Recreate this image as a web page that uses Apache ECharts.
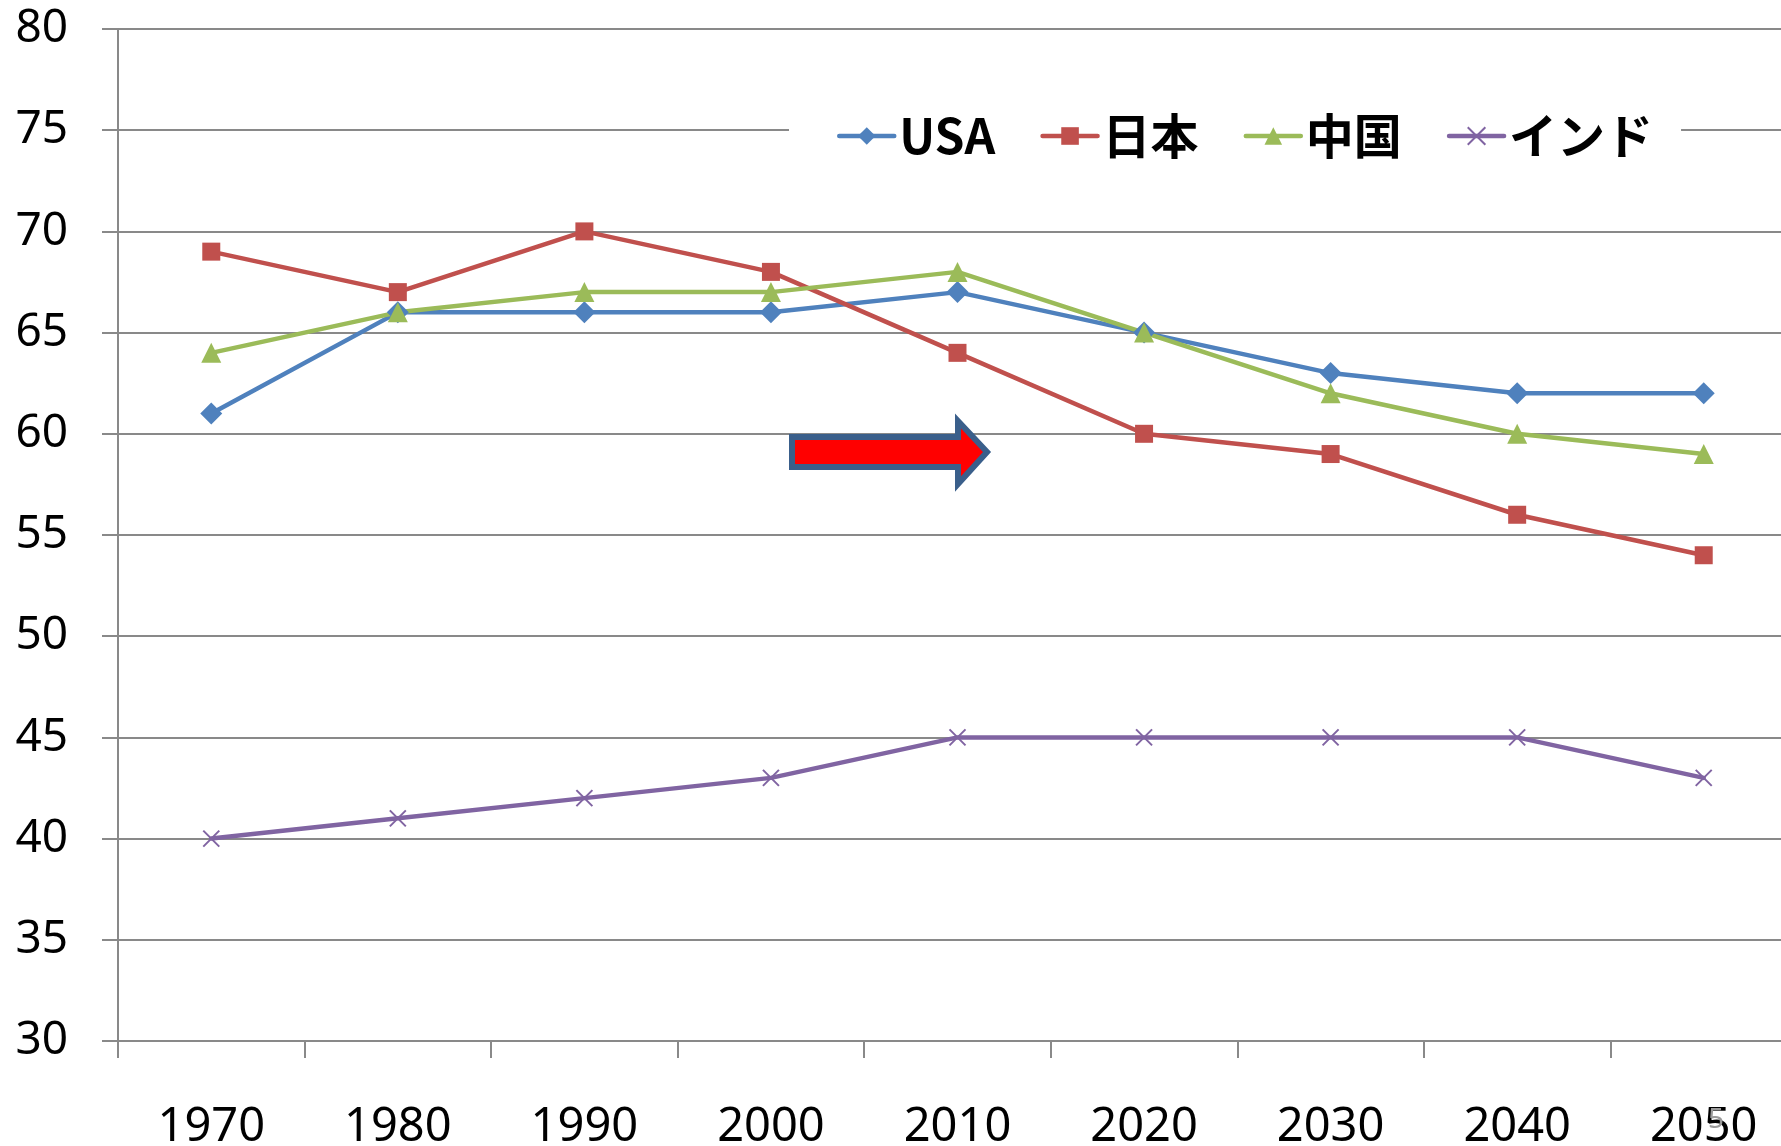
<!DOCTYPE html>
<html>
<head>
<meta charset="utf-8">
<script src="https://cdn.jsdelivr.net/npm/echarts@6/dist/echarts.min.js"></script>
<style>
  html, body { margin: 0; padding: 0; background: #fff; }
  #chart { width: 1781px; height: 1146px; }
</style>
</head>
<body>
<div id="chart"></div>
<script>
var years = ['1970', '1980', '1990', '2000', '2010', '2020', '2030', '2040', '2050'];
var usa = [61, 66, 66, 66, 67, 65, 63, 62, 62];
var japan = [69, 67, 70, 68, 64, 60, 59, 56, 54];
var china = [64, 66, 67, 67, 68, 65, 62, 60, 59];
var india = [40, 41, 42, 43, 45, 45, 45, 45, 43];

var chartDom = document.getElementById('chart');
var myChart = echarts.init(chartDom);
var gridColor = '#898989';
var crossPath = 'path://M0,0L10,10M10,0L0,10';

function lineSeries(name, data, color, symbol, size) {
    return {
        name: name,
        type: 'line',
        data: data,
        symbol: symbol,
        symbolSize: size,
        showAllSymbol: true,
        lineStyle: { color: color, width: 4.5, cap: 'round', join: 'round' },
        itemStyle: { color: color, borderColor: color, borderWidth: symbol === crossPath ? 2 : 0 },
        emphasis: { disabled: true },
        z: 3
    };
}

var option = {
    animation: false,
    backgroundColor: '#fff',
    textStyle: { fontFamily: '"Noto Sans", "Noto Sans CJK JP", sans-serif' },
    grid: { left: 118, top: 29, bottom: 105, right: -16, containLabel: false, outerBoundsMode: 'none' },
    legend: {
        left: 789,
        top: 98,
        padding: [14, 28, 14, 48],
        backgroundColor: '#fff',
        itemWidth: 55,
        itemHeight: 22,
        itemGap: 45,
        z: 5,
        lineStyle: { width: 4.5, cap: 'round' },
        textStyle: {
            fontSize: 48,
            fontWeight: 'bold',
            color: '#000',
            fontFamily: '"Noto Sans CJK JP", sans-serif'
        },
        data: ['USA', '日本', '中国', 'インド']
    },
    xAxis: {
        type: 'category',
        data: years,
        boundaryGap: true,
        axisLine: { lineStyle: { color: gridColor, width: 2 } },
        axisTick: { show: true, length: 17, lineStyle: { color: gridColor, width: 2 } },
        axisLabel: { fontSize: 47, color: '#000', margin: 63 },
        splitLine: { show: false }
    },
    yAxis: {
        type: 'value',
        min: 30,
        max: 80,
        interval: 5,
        axisLine: { show: true, lineStyle: { color: gridColor, width: 2 } },
        axisTick: { show: true, length: 16, lineStyle: { color: gridColor, width: 2 } },
        axisLabel: { fontSize: 46, color: '#000', margin: 50 },
        splitLine: { lineStyle: { color: gridColor, width: 2 } }
    },
    graphic: [
        {
            type: 'polygon',
            z: 10,
            shape: {
                points: [[792, 437], [958, 437], [958, 421], [987, 452], [958, 484], [958, 467], [792, 467]]
            },
            style: { fill: '#ff0000', stroke: '#3A5F8B', lineWidth: 6, lineJoin: 'miter' }
        },
        {
            type: 'text',
            left: 1708,
            top: 1106,
            z: 10,
            style: { text: '5', fontSize: 28, fill: '#9a9a9a', fontFamily: '"Noto Sans", sans-serif' }
        }
    ],
    series: [
        lineSeries('USA', usa, '#4F81BD', 'diamond', 22),
        lineSeries('日本', japan, '#C0504D', 'rect', 18),
        lineSeries('中国', china, '#9BBB59', 'triangle', 20),
        lineSeries('インド', india, '#8064A2', crossPath, 16)
    ]
};

if (option && typeof option === 'object') {
    myChart.setOption(option);
}
</script>
</body>
</html>
